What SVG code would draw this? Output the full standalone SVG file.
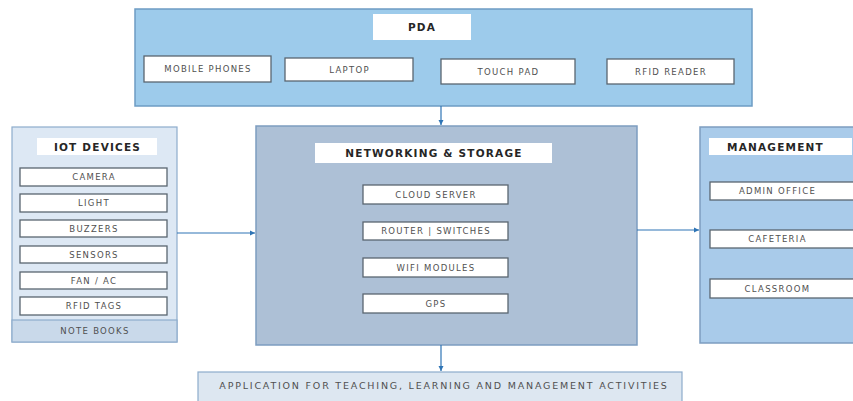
<svg xmlns="http://www.w3.org/2000/svg" width="853" height="401" viewBox="0 0 853 401">
<style>
text{font-family:"DejaVu Sans","Liberation Sans",sans-serif;text-anchor:middle;dominant-baseline:central;fill:#505050}
.lab{font-weight:bold;font-size:10.5px;fill:#262626;letter-spacing:1.2px}
.it{font-size:8.5px;letter-spacing:1.3px}
.item{fill:#ffffff;stroke:#5a6670;stroke-width:1.3}
.title{fill:#ffffff}
.conn{stroke:#2e74b5;stroke-width:1.2;fill:none}
</style>
<defs>
<marker id="ah" markerWidth="6" markerHeight="6" refX="5" refY="3" orient="auto" markerUnits="userSpaceOnUse">
<path d="M0,0.5 L5,3 L0,5.5 z" fill="#2e74b5"/>
</marker>
</defs>
<rect width="853" height="401" fill="#ffffff"/>
<g id="pda">
<rect x="135" y="9" width="617" height="97" fill="#9dcbeb" stroke="#6d9cc4" stroke-width="1.5"/>
<rect class="title" x="373" y="14" width="98" height="26"/>
<text class="lab" x="422" y="27">PDA</text>
<rect class="item" x="144" y="56" width="127" height="26"/>
<text class="it" x="208" y="69">MOBILE PHONES</text>
<rect class="item" x="285" y="58" width="128" height="23"/>
<text class="it" x="349.5" y="69.5">LAPTOP</text>
<rect class="item" x="441" y="59" width="134" height="25"/>
<text class="it" x="508.5" y="71.5">TOUCH PAD</text>
<rect class="item" x="607" y="59" width="127" height="25"/>
<text class="it" x="671" y="71.5">RFID READER</text>
</g>
<g id="iot">
<rect x="12" y="127" width="165" height="215" fill="#dde8f4" stroke="#8eaccc" stroke-width="1.2"/>
<rect x="12" y="320" width="165" height="22" fill="#c9d9ea" stroke="#8eaccc" stroke-width="1.2"/>
<rect class="title" x="37" y="138" width="120" height="17"/>
<text class="lab" x="97.5" y="146.5">IOT DEVICES</text>
<rect class="item" x="20" y="168" width="147" height="18"/>
<text class="it" x="94" y="177">CAMERA</text>
<rect class="item" x="20" y="194" width="147" height="18"/>
<text class="it" x="94" y="203">LIGHT</text>
<rect class="item" x="20" y="220" width="147" height="17"/>
<text class="it" x="94" y="228.5">BUZZERS</text>
<rect class="item" x="20" y="246" width="147" height="17"/>
<text class="it" x="94" y="254.5">SENSORS</text>
<rect class="item" x="20" y="272" width="147" height="17"/>
<text class="it" x="94" y="280.5">FAN / AC</text>
<rect class="item" x="20" y="297" width="147" height="18"/>
<text class="it" x="94" y="306">RFID TAGS</text>
<text class="it" x="95" y="330.5">NOTE BOOKS</text>
</g>
<g id="networking">
<rect x="256" y="126" width="381" height="219" fill="#adc0d6" stroke="#7d9dc0" stroke-width="1.5"/>
<rect class="title" x="315" y="143" width="237" height="20"/>
<text class="lab" x="434" y="153">NETWORKING &amp; STORAGE</text>
<rect class="item" x="363" y="185" width="145" height="19"/>
<text class="it" x="436" y="194.5">CLOUD SERVER</text>
<rect class="item" x="363" y="222" width="145" height="18"/>
<text class="it" x="436" y="231">ROUTER | SWITCHES</text>
<rect class="item" x="363" y="258" width="145" height="19"/>
<text class="it" x="436" y="267.5">WIFI MODULES</text>
<rect class="item" x="363" y="294" width="145" height="19"/>
<text class="it" x="436" y="303.5">GPS</text>
</g>
<g id="management">
<rect x="700" y="127" width="160" height="216" fill="#a9cbea" stroke="#7d9dc0" stroke-width="1.5"/>
<rect class="title" x="709" y="138" width="143" height="17"/>
<text class="lab" x="775.5" y="146.5">MANAGEMENT</text>
<rect class="item" x="710" y="182" width="150" height="18"/>
<text class="it" x="777.5" y="191">ADMIN OFFICE</text>
<rect class="item" x="710" y="230" width="150" height="18"/>
<text class="it" x="777.5" y="239">CAFETERIA</text>
<rect class="item" x="710" y="279" width="150" height="19"/>
<text class="it" x="777.5" y="288.5">CLASSROOM</text>
</g>
<g id="application">
<rect x="198" y="372" width="484" height="35" fill="#dde7f1" stroke="#8eaccc" stroke-width="1.2"/>
<text class="it" x="444" y="385" style="font-size:9.5px;letter-spacing:1.8px">APPLICATION FOR TEACHING, LEARNING AND MANAGEMENT ACTIVITIES</text>
</g>
<g id="connectors">
<line class="conn" x1="441" y1="106" x2="441" y2="125" marker-end="url(#ah)"/>
<line class="conn" x1="177" y1="233" x2="255" y2="233" marker-end="url(#ah)"/>
<line class="conn" x1="637" y1="230" x2="699" y2="230" marker-end="url(#ah)"/>
<line class="conn" x1="441" y1="345" x2="441" y2="371" marker-end="url(#ah)"/>
</g>
</svg>
